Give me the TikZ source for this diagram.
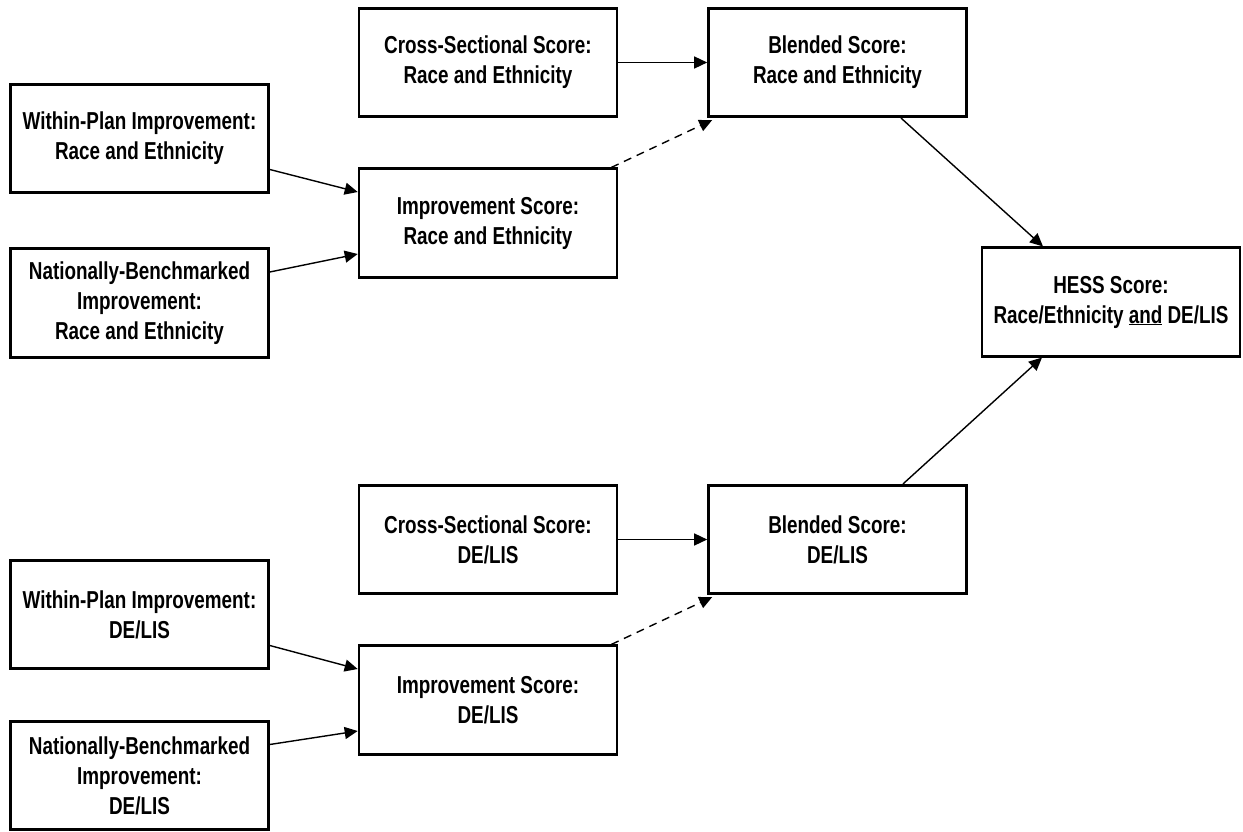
\documentclass[tikz,border=0pt]{standalone}
\usepackage{fontspec}
\setmainfont{Liberation Sans}[FakeStretch=0.77]
\usetikzlibrary{arrows.meta,calc}
\begin{document}
\begin{tikzpicture}[x=1pt,y=-1pt,
  box/.style={draw,line width=2.6pt,minimum width=258pt,minimum height=108.5pt,align=center,inner sep=0pt,
    font=\fontsize{24.5}{30}\selectfont\bfseries},
  conn/.style={line width=1.4pt,-{Triangle[length=13pt,width=12pt]}},
  dconn/.style={conn,dash pattern=on 8pt off 6pt}]
\useasboundingbox (0,0) rectangle (1243,832);
% Race and Ethnicity half
\node[box] (cRE) at (488,62.5) {Cross-Sectional Score:\\Race and Ethnicity};
\node[box] (bRE) at (837.5,62.5) {Blended Score:\\Race and Ethnicity};
\node[box] (wRE) at (139.5,138.5) {Within-Plan Improvement:\\Race and Ethnicity};
\node[box] (iRE) at (488,223) {Improvement Score:\\Race and Ethnicity};
\node[box] (nRE) at (139.5,303) {Nationally-Benchmarked\\Improvement:\\Race and Ethnicity};
% HESS
\node[box] (hess) at (1111,302) {HESS Score:\\Race/Ethnicity \underline{and} DE/LIS};
% DE/LIS half
\node[box] (cDE) at (488,539.5) {Cross-Sectional Score:\\DE/LIS};
\node[box] (bDE) at (837.5,539.5) {Blended Score:\\DE/LIS};
\node[box] (wDE) at (139.5,614.5) {Within-Plan Improvement:\\DE/LIS};
\node[box] (iDE) at (488,700) {Improvement Score:\\DE/LIS};
\node[box] (nDE) at (139.5,775.5) {Nationally-Benchmarked\\Improvement:\\DE/LIS};
% connectors RE
\draw[conn] (cRE.east) -- (bRE.west);
\draw[conn] ($(wRE.east)+(0,31)$) -- ($(iRE.west)+(0,-31)$);
\draw[conn] ($(nRE.east)+(0,-31)$) -- ($(iRE.west)+(0,31)$);
\draw[dconn] ($(iRE.north east)+(-7,0)$) -- ($(bRE.south west)+(5,2)$);
\draw[conn] ($(bRE.south)+(63.5,0)$) -- ($(hess.north)+(-68,0)$);
% connectors DE
\draw[conn] (cDE.east) -- (bDE.west);
\draw[conn] ($(wDE.east)+(0,31)$) -- ($(iDE.west)+(0,-31)$);
\draw[conn] ($(nDE.east)+(0,-31)$) -- ($(iDE.west)+(0,31)$);
\draw[dconn] ($(iDE.north east)+(-7,0)$) -- ($(bDE.south west)+(5,2)$);
\draw[conn] ($(bDE.north)+(65.5,0)$) -- ($(hess.south)+(-69,0)$);
\end{tikzpicture}
\end{document}
